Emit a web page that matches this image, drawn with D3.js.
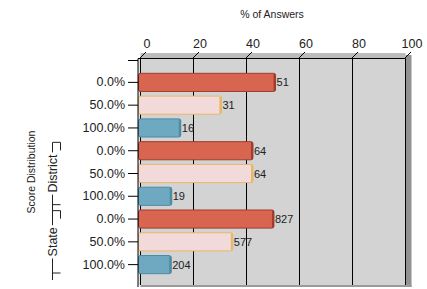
<!DOCTYPE html>
<html>
<head>
<meta charset="utf-8">
<script src="https://cdn.jsdelivr.net/npm/d3@7"></script>
<style>
  html, body { margin: 0; padding: 0; background: #fff; }
  svg { display: block; font-family: "Liberation Sans", Arial, sans-serif; }
</style>
</head>
<body>
<svg id="chart" width="427" height="289"></svg>
<script>
// Datos del gráfico
const groups = ['', 'District', 'State'];
const scores = ['0.0%', '50.0%', '100.0%'];
const counts = [51, 31, 16, 64, 64, 19, 827, 577, 204];
const percents = [52.0, 31.6, 16.3, 43.5, 43.5, 12.9, 51.4, 35.9, 12.7];
const xTicks = [0, 20, 40, 60, 80, 100];

const fills = ['#d7654f', '#f3dada', '#6fa9c1'];
const strokes = ['#9e3d2e', '#e9b766', '#4c8aa5'];

const rows = counts.map((c, i) => ({
  id: i,
  group: groups[Math.floor(i / 3)],
  score: scores[i % 3],
  count: c,
  pct: percents[i],
  kind: i % 3
}));

const svg = d3.select('#chart');

// Escalas: plano frontal para las barras, plano trasero para la rejilla
const x = d3.scaleLinear().domain([0, 100]).range([138, 403.5]);
const xBack = d3.scaleLinear().domain([0, 100]).range([140.5, 405.5]);
const y = d3.scaleBand().domain(rows.map(d => d.id)).range([71, 276]).padding(0);
const plotTop = 58.5, plotBottom = 285;

// Pared trasera con sombra
svg.append('rect')
  .attr('x', xBack(100)).attr('y', 55).attr('width', 6).attr('height', plotBottom - 53)
  .attr('fill', '#929292');
svg.append('rect')
  .attr('x', xBack(0)).attr('y', plotBottom - 1).attr('width', xBack(100) - xBack(0) + 6).attr('height', 3)
  .attr('fill', '#9a9a9a');
svg.append('rect')
  .attr('x', xBack(0)).attr('y', 53).attr('width', xBack(100) - xBack(0)).attr('height', 6)
  .attr('fill', '#bcbcbc');
svg.append('rect')
  .attr('x', xBack(0)).attr('y', plotTop).attr('width', xBack(100) - xBack(0)).attr('height', plotBottom - plotTop)
  .attr('fill', '#d3d3d3');
// Pared lateral izquierda
svg.append('rect')
  .attr('x', x(0)).attr('y', plotTop).attr('width', xBack(0) - x(0)).attr('height', plotBottom - plotTop)
  .attr('fill', '#e2e2e2');

// Línea superior y rejilla vertical
svg.append('line')
  .attr('x1', x(0)).attr('x2', xBack(100)).attr('y1', plotTop).attr('y2', plotTop)
  .attr('stroke', '#000');
svg.append('g')
  .selectAll('line')
  .data(xTicks)
  .enter()
  .append('line')
  .attr('x1', d => xBack(d)).attr('x2', d => xBack(d))
  .attr('y1', plotTop).attr('y2', plotBottom)
  .attr('stroke', '#000');

// Eje superior (ticks inclinados)
const axisTop = svg.append('g')
  .attr('transform', 'translate(0,52)')
  .call(d3.axisTop(xBack).tickValues(xTicks).tickSize(0).tickPadding(4));
axisTop.select('.domain').remove();
axisTop.selectAll('.tick text')
  .attr('x', 6)
  .attr('font-size', '12.5px')
  .attr('font-family', '"Liberation Sans", Arial, sans-serif')
  .attr('fill', '#222');
axisTop.selectAll('.tick')
  .append('line')
  .attr('x1', -2).attr('y1', 7).attr('x2', 5).attr('y2', 0)
  .attr('stroke', '#000');

// Barras
const bar = svg.append('g')
  .selectAll('g')
  .data(rows)
  .enter()
  .append('g');

const bh = y.bandwidth() * 0.84;
const by = d => y(d.id) + (y.bandwidth() - bh) / 2;

bar.append('rect')
  .attr('x', x(0) + 0.5)
  .attr('y', d => by(d) + 0.5)
  .attr('width', d => x(d.pct) - x(0) - 1)
  .attr('height', bh - 1)
  .attr('rx', 2)
  .attr('fill', d => fills[d.kind])
  .attr('stroke', d => strokes[d.kind]);

// Lado derecho en 3D
bar.append('rect')
  .attr('x', d => x(d.pct) - 2.5)
  .attr('y', d => by(d) + 1)
  .attr('width', 2)
  .attr('height', bh - 2)
  .attr('fill', d => strokes[d.kind]);

// Etiquetas de valor
bar.append('text')
  .attr('x', d => x(d.pct) + 0.5)
  .attr('y', d => y(d.id) + y.bandwidth() / 2 + 4)
  .attr('font-size', '11px')
  .attr('fill', '#222')
  .text(d => d.count);

// Eje izquierdo
svg.append('line')
  .attr('x1', x(0)).attr('x2', x(0)).attr('y1', plotTop).attr('y2', plotBottom + 2)
  .attr('stroke', '#000');
svg.append('line')
  .attr('x1', x(0) - 10).attr('x2', x(0)).attr('y1', plotTop + 2).attr('y2', plotTop + 2)
  .attr('stroke', '#000');

const axisLeft = svg.append('g')
  .attr('transform', `translate(${x(0)},0)`)
  .call(d3.axisLeft(y).tickSize(10).tickPadding(3).tickSizeOuter(0)
    .tickFormat(i => rows[i].score));
axisLeft.select('.domain').remove();
axisLeft.selectAll('.tick line').attr('stroke', '#000');
axisLeft.selectAll('.tick text')
  .attr('font-size', '12.5px')
  .attr('font-family', '"Liberation Sans", Arial, sans-serif')
  .attr('fill', '#222');

// Corchetes de grupo (District, State)
const bracketX = 52.5, tickX = 60.5;
groups.forEach((g, gi) => {
  if (!g) return;
  const y0 = y(gi * 3) + 3;
  const y1 = y(gi * 3 + 2) + y.bandwidth() - 3;
  const mid = (y0 + y1) / 2;
  const label = svg.append('text')
    .attr('transform', `translate(${bracketX + 4},${mid}) rotate(-90)`)
    .attr('text-anchor', 'middle')
    .attr('font-size', '12.5px')
    .attr('fill', '#222')
    .text(g);
  const half = label.node().getComputedTextLength() / 2 + 2;
  svg.append('path')
    .attr('d', `M${tickX},${y0 + 8}V${y0}H${bracketX}V${mid - half}` +
               `M${bracketX},${mid + half}V${y1 + 7}M${bracketX},${y1}H${tickX}`)
    .attr('fill', 'none')
    .attr('stroke', '#222');
});

// Títulos
svg.append('text')
  .attr('x', 272).attr('y', 18)
  .attr('text-anchor', 'middle')
  .attr('font-size', '10.5px')
  .attr('fill', '#222')
  .text('% of Answers');

svg.append('text')
  .attr('transform', 'translate(35,172) rotate(-90)')
  .attr('text-anchor', 'middle')
  .attr('font-size', '10.5px')
  .attr('fill', '#222')
  .text('Score Distribution');
</script>
</body>
</html>
